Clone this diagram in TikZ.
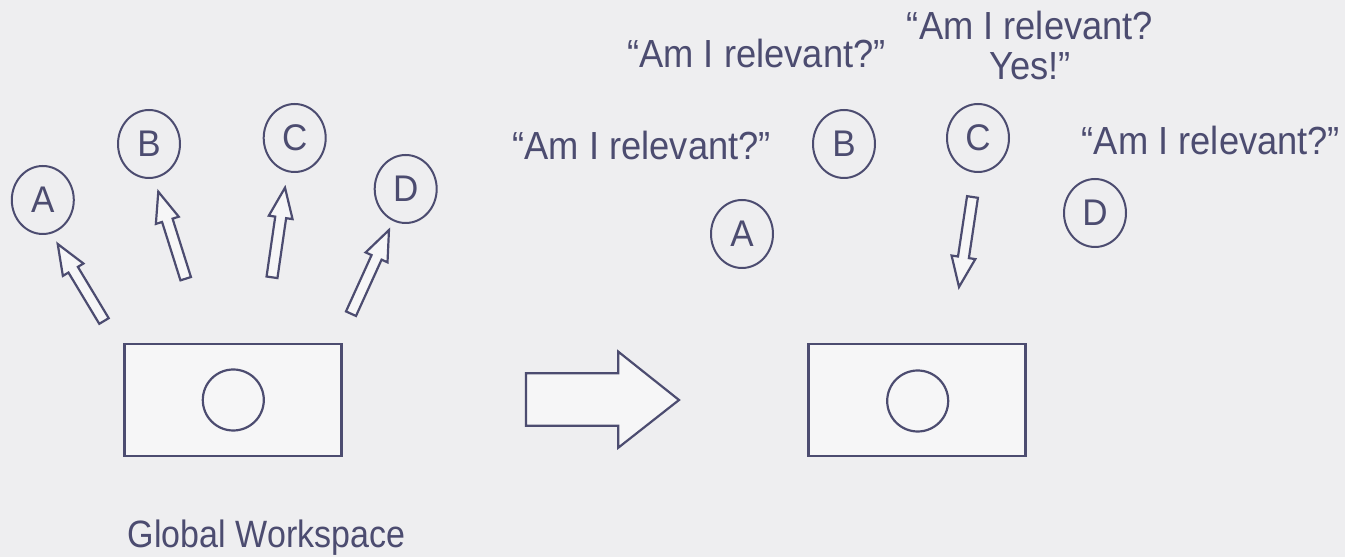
\documentclass[tikz,border=0pt]{standalone}
\usepackage{graphicx}
\usepackage{fontspec}
\setmainfont{Liberation Sans}
\usetikzlibrary{shapes.geometric,calc}
\definecolor{ink}{RGB}{76,76,112}
\definecolor{bg}{RGB}{238,238,240}
\definecolor{paper}{RGB}{246,246,247}
\newcommand\tallq[2]{\scalebox{1}[#1]{#2}}
\tikzset{
  shapeline/.style={draw=ink, line width=2.2pt, line join=miter, fill=paper},
  bub/.style={ellipse, draw=ink, line width=2pt, minimum width=62pt, minimum height=68pt, inner sep=0pt, text=ink, font=\fontsize{35}{40}\selectfont},
  inner/.style={circle, draw=ink, line width=2.2pt, minimum size=61pt, inner sep=0pt},
  box/.style={rectangle, draw=ink, line width=2.5pt, fill=paper, minimum width=217pt, minimum height=112pt, inner sep=0pt},
  txt/.style={text=ink, font=\fontsize{36.3}{40}\selectfont, inner sep=0pt, align=center},
  captxt/.style={text=ink, font=\fontsize{34}{40}\selectfont, inner sep=0pt}
}
\newcommand\blockarrow[2]{%
  \draw[shapeline] let \p1=($(#2)-(#1)$), \n1={atan2(\y1,\x1)}, \n2={veclen(\x1,\y1)} in
    ([shift={(#1)},rotate=\n1]0pt,-5.5pt)
    -- ([shift={(#1)},rotate=\n1]{\n2-30},-5.5pt)
    -- ([shift={(#1)},rotate=\n1]{\n2-30},-12pt)
    -- ([shift={(#1)},rotate=\n1]\n2,0pt)
    -- ([shift={(#1)},rotate=\n1]{\n2-30},12pt)
    -- ([shift={(#1)},rotate=\n1]{\n2-30},5.5pt)
    -- ([shift={(#1)},rotate=\n1]0pt,5.5pt) -- cycle;}
\begin{document}
\begin{tikzpicture}[x=1pt,y=1pt]
\useasboundingbox[fill=bg] (0,0) rectangle (1345,557);

% ---------- left: broadcasting ----------
\node[box] (lbox) at (233,157) {};
\node[inner] (lcore) at (233.3,157) {};

\node[bub] (lA) at (42.8,357) {\tallq{1.06}{A}};
\node[bub] (lB) at (149,413) {\tallq{1.06}{B}};
\node[bub] (lC) at (294.7,419) {\tallq{1.06}{C}};
\node[bub] (lD) at (405.7,368) {\tallq{1.06}{D}};

\coordinate (lAs) at (104,236);   \coordinate (lAt) at (57.7,313);
\coordinate (lBs) at (185.7,278.3); \coordinate (lBt) at (158.3,365.3);
\coordinate (lCs) at (272,279.7); \coordinate (lCt) at (285,369.3);
\coordinate (lDs) at (351,243.3); \coordinate (lDt) at (389,327);
\blockarrow{lAs}{lAt}
\blockarrow{lBs}{lBt}
\blockarrow{lCs}{lCt}
\blockarrow{lDs}{lDt}

\node[captxt, anchor=base] (gw) at (266.5,9) {\tallq{1.12}{Global Workspace}};

% ---------- big arrow ----------
\draw[shapeline] (526,183.7) -- (618.3,183.7) -- (618.3,205.3) -- (679,157)
  -- (618.3,109.3) -- (618.3,131.3) -- (526,131.3) -- cycle;

% ---------- right: competition ----------
\node[box] (rbox) at (917,157) {};
\node[inner] (rcore) at (917.7,156) {};

\node[bub] (rA) at (742,323) {\tallq{1.06}{A}};
\node[bub] (rB) at (844,413) {\tallq{1.06}{B}};
\node[bub] (rC) at (978,419) {\tallq{1.06}{C}};
\node[bub] (rD) at (1095,344) {\tallq{1.06}{D}};

\coordinate (rCs) at (972.5,360); \coordinate (rCt) at (959,270);
\blockarrow{rCs}{rCt}

\node[txt, anchor=base] (q1) at (756.5,489) {\tallq{1.08}{“Am I relevant?”}};
\node[txt, anchor=base] (q2) at (641.7,397) {\tallq{1.08}{“Am I relevant?”}};
\node[txt, anchor=base] (q4) at (1211,402) {\tallq{1.08}{“Am I relevant?”}};
\node[txt, anchor=base] (q3a) at (1030,517) {\tallq{1.08}{“Am I relevant?}};
\node[txt, anchor=base] (q3b) at (1030,477) {\tallq{1.08}{Yes!”}};
\end{tikzpicture}
\end{document}
